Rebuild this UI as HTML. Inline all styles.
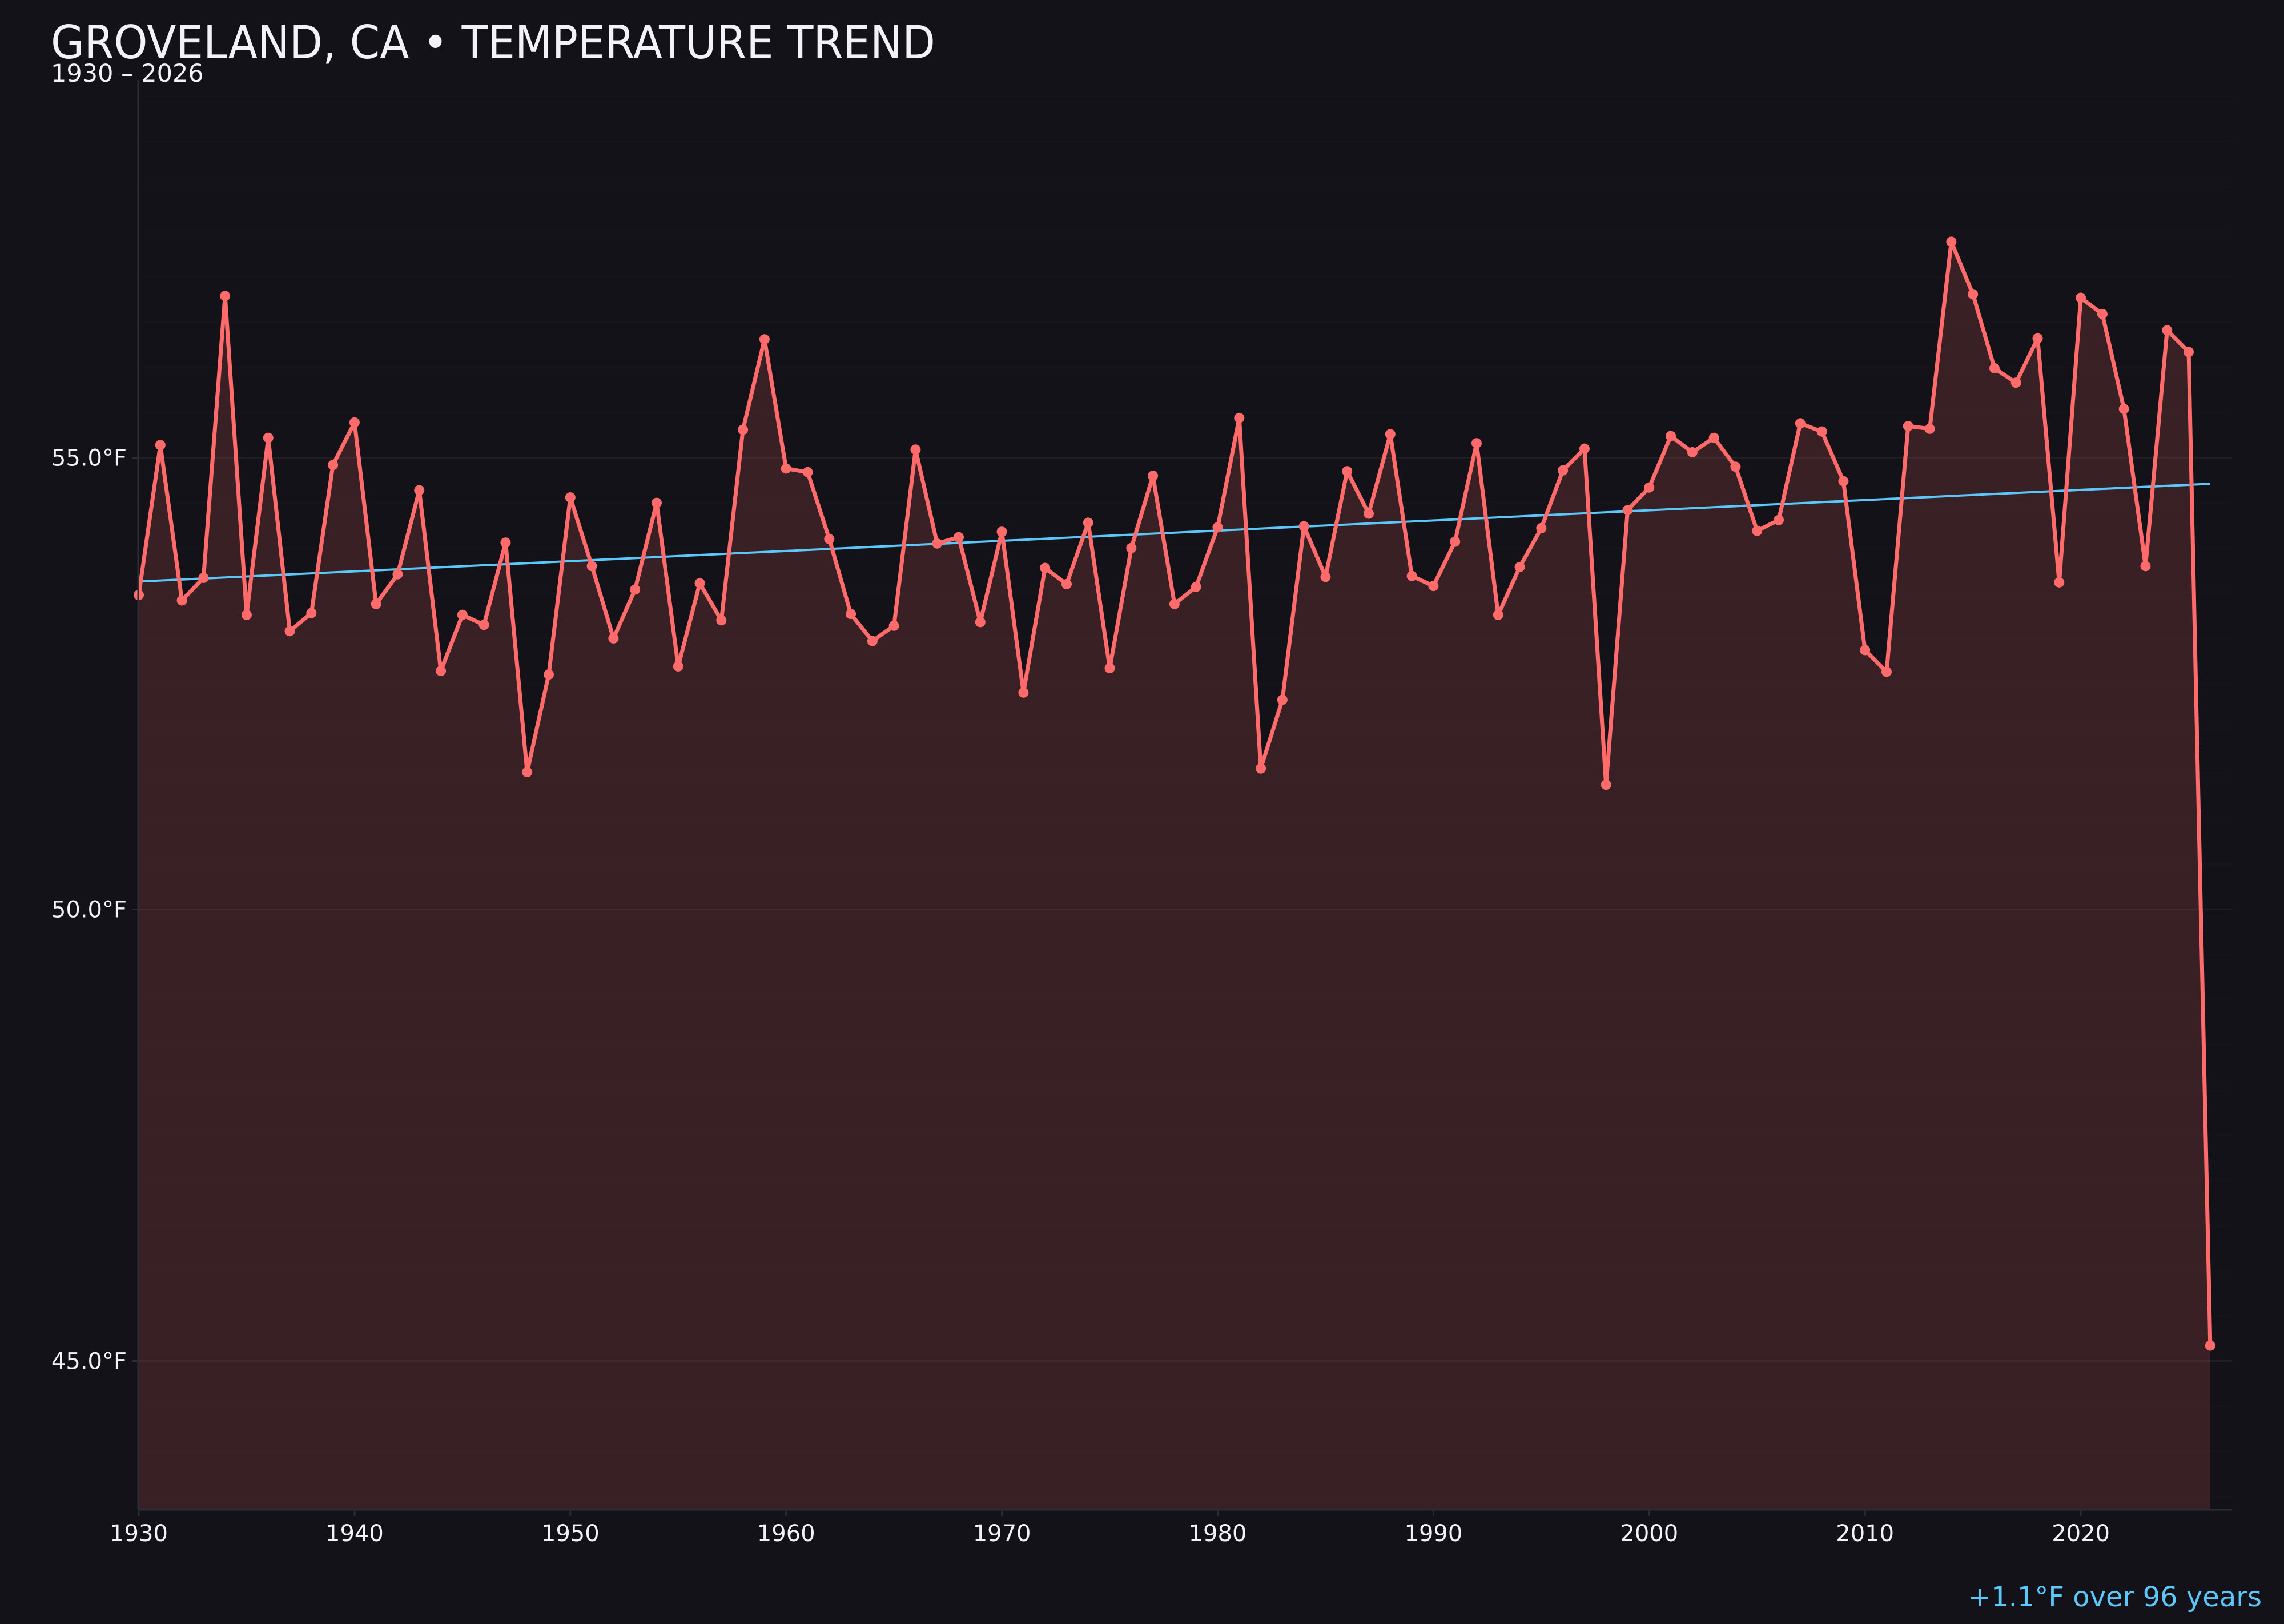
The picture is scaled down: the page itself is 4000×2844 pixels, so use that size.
<!DOCTYPE html>
<html><head><meta charset="utf-8"><style>
html,body{margin:0;padding:0;background:#121218;}
svg{display:block;font-family:"DejaVu Sans","Liberation Sans",sans-serif;}
</style></head><body>
<svg id="chart" width="4000" height="2844" viewBox="0 0 4000 2844" xmlns="http://www.w3.org/2000/svg">
<rect x="0" y="0" width="4000" height="2844" fill="#121218"/>
<text x="89" y="102" font-size="80" fill="#f2f2f7" textLength="1549" lengthAdjust="spacingAndGlyphs">GROVELAND, CA • TEMPERATURE TREND</text>
<text x="89" y="143" font-size="43" fill="#f2f2f7">1930 – 2026</text>
<g id="grid"></g>
<g id="fill"></g>
<g id="trend"></g>
<g id="series"></g>
<g id="axes"></g>
<text x="3961" y="2813" font-size="48" fill="#5ac8fa" text-anchor="end">+1.1°F over 96 years</text>
</svg>
<script>
const years = [1930,1931,1932,1933,1934,1935,1936,1937,1938,1939,1940,1941,1942,1943,1944,1945,1946,1947,1948,1949,1950,1951,1952,1953,1954,1955,1956,1957,1958,1959,1960,1961,1962,1963,1964,1965,1966,1967,1968,1969,1970,1971,1972,1973,1974,1975,1976,1977,1978,1979,1980,1981,1982,1983,1984,1985,1986,1987,1988,1989,1990,1991,1992,1993,1994,1995,1996,1997,1998,1999,2000,2001,2002,2003,2004,2005,2006,2007,2008,2009,2010,2011,2012,2013,2014,2015,2016,2017,2018,2019,2020,2021,2022,2023,2024,2025,2026];
const temps = [53.48,55.14,53.42,53.67,56.79,53.26,55.22,53.08,53.28,54.92,55.39,53.38,53.71,54.64,52.64,53.26,53.15,54.06,51.52,52.60,54.56,53.80,53.00,53.54,54.50,52.69,53.61,53.20,55.31,56.31,54.88,54.84,54.10,53.27,52.97,53.14,55.09,54.05,54.12,53.18,54.18,52.40,53.78,53.60,54.28,52.67,54.00,54.80,53.38,53.57,54.23,55.44,51.56,52.32,54.24,53.68,54.85,54.38,55.26,53.69,53.58,54.07,55.16,53.26,53.79,54.22,54.86,55.10,51.38,54.42,54.67,55.24,55.06,55.22,54.90,54.19,54.31,55.38,55.29,54.74,52.87,52.63,55.35,55.32,57.39,56.81,55.99,55.83,56.32,53.62,56.77,56.59,55.54,53.80,56.41,56.17,45.17];
const yTicks = [45,50,55];
const yTickLabels = ["45.0°F","50.0°F","55.0°F"];
const xTicks = [1930,1940,1950,1960,1970,1980,1990,2000,2010,2020];

const NS = "http://www.w3.org/2000/svg";
const X0 = 243, PX_PER_YEAR = 37.79;
const Y55 = 801.5, PX_PER_DEG = 158.2;
const PLOT_TOP = 140, PLOT_BOTTOM = 2643, PLOT_LEFT = 242, PLOT_RIGHT = 3909;
function xs(yr){ return X0 + (yr - 1930) * PX_PER_YEAR; }
function ys(v){ return Y55 + (55 - v) * PX_PER_DEG; }
function mk(tag, attrs, parent){ const e = document.createElementNS(NS, tag); for (const k in attrs) e.setAttribute(k, attrs[k]); parent.appendChild(e); return e; }

const grid = document.getElementById('grid');
const vMin = 55 - (PLOT_BOTTOM - Y55) / PX_PER_DEG, vMax = 55 + (Y55 - PLOT_TOP) / PX_PER_DEG;
for (let v = Math.ceil(vMin*2)/2; v <= vMax; v += 0.5) {
  if (Number.isInteger(v) && v % 5 === 0) continue;
  const l = mk('line', {x1: PLOT_LEFT, x2: PLOT_RIGHT, y1: ys(v), y2: ys(v), stroke: '#ffffff', 'stroke-opacity': 0.012, 'stroke-width': 3}, grid);
  
  
}
yTicks.forEach((v, i) => {
  const l = mk('line', {x1: PLOT_LEFT, x2: PLOT_RIGHT, y1: ys(v), y2: ys(v), stroke: '#ffffff', 'stroke-opacity': 0.05, 'stroke-width': 3}, grid);
  
  
});

const fillG = document.getElementById('fill');
let d = 'M' + xs(years[0]) + ',' + PLOT_BOTTOM;
years.forEach((yr, i) => { d += ' L' + xs(yr) + ',' + ys(temps[i]); });
d += ' L' + xs(years[years.length-1]) + ',' + PLOT_BOTTOM + ' Z';
const area = mk('path', {d: d, fill: '#ff6b6b', 'fill-opacity': 0.16}, fillG);



const n = years.length;
const mx = years.reduce((a,b)=>a+b,0)/n, my = temps.reduce((a,b)=>a+b,0)/n;
let sxy = 0, sxx = 0;
years.forEach((yr,i)=>{ sxy += (yr-mx)*(temps[i]-my); sxx += (yr-mx)*(yr-mx); });
const slope = sxy / sxx, icpt = my - slope*mx;
const y1v = icpt + slope*years[0], y2v = icpt + slope*years[n-1];
const tl = mk('line', {x1: xs(years[0]), y1: ys(y1v), x2: xs(years[n-1]), y2: ys(y2v), stroke: '#5ac8fa', 'stroke-width': 4}, document.getElementById('trend'));



const sg = document.getElementById('series');
const pts = years.map((yr,i)=> xs(yr) + ',' + ys(temps[i])).join(' ');
const pl = mk('polyline', {points: pts, fill: 'none', stroke: '#ff6b6b', 'stroke-width': 7, 'stroke-linejoin': 'round'}, sg);


years.forEach((yr,i)=>{
  const c = mk('circle', {cx: xs(yr), cy: ys(temps[i]), r: 9, fill: '#ff6b6b'}, sg);
  
  
});

const ax = document.getElementById('axes');
const la = mk('line', {x1: PLOT_LEFT, x2: PLOT_LEFT, y1: PLOT_TOP, y2: PLOT_BOTTOM, stroke: '#2c2c36', 'stroke-width': 3}, ax);


const ba = mk('line', {x1: PLOT_LEFT, x2: PLOT_RIGHT, y1: PLOT_BOTTOM + 1, y2: PLOT_BOTTOM + 1, stroke: '#2c2c36', 'stroke-width': 3}, ax);


yTicks.forEach((v,i)=>{
  const t = mk('line', {x1: PLOT_LEFT - 10, x2: PLOT_LEFT, y1: ys(v), y2: ys(v), stroke: '#2c2c36', 'stroke-width': 3}, ax);
  
  
  const tx = mk('text', {x: 222, y: ys(v) + 14, 'font-size': 40, fill: '#f2f2f7', 'text-anchor': 'end'}, ax);
  tx.textContent = yTickLabels[i];
  
  
});
xTicks.forEach(yr=>{
  const t = mk('line', {x1: xs(yr), x2: xs(yr), y1: PLOT_BOTTOM + 1, y2: PLOT_BOTTOM + 11, stroke: '#2c2c36', 'stroke-width': 3}, ax);
  
  
  const tx = mk('text', {x: xs(yr), y: 2699, 'font-size': 40, fill: '#f2f2f7', 'text-anchor': 'middle'}, ax);
  tx.textContent = String(yr);
  
  
});
</script>
</body></html>
